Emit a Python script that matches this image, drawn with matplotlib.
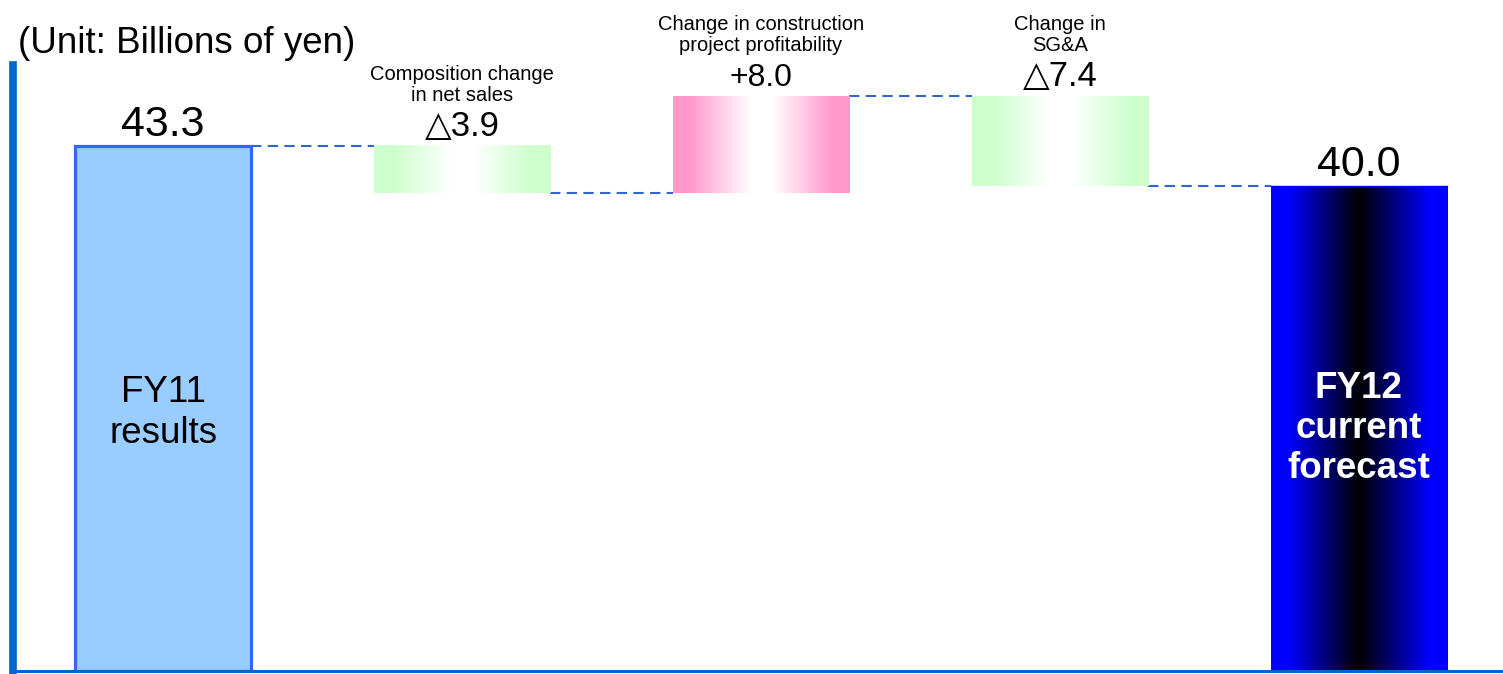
import numpy as np
import matplotlib
matplotlib.use("Agg")
import matplotlib.pyplot as plt
from matplotlib.colors import LinearSegmentedColormap

plt.rcParams['font.family'] = ['Liberation Sans', 'DejaVu Sans']

# data
labels = ['FY11\nresults', 'Composition change\nin net sales', 'Change in construction\nproject profitability',
          'Change in\nSG&A', 'FY12\ncurrent\nforecast']
start_value = 43.3
changes = [-3.9, 8.0, -7.4]
end_value = 40.0
value_texts = ['43.3', '\u25b33.9', '+8.0', '\u25b37.4', '40.0']

# waterfall bottoms / heights
bottoms = [0]
heights = [start_value]
running = start_value
for c in changes:
    new = running + c
    bottoms.append(min(running, new))
    heights.append(abs(c))
    running = new
bottoms.append(0)
heights.append(end_value)
tops = [b + h for b, h in zip(bottoms, heights)]
levels = [start_value] + list(np.cumsum([start_value] + changes)[1:]) + [end_value]

fig = plt.figure(figsize=(15.03, 6.74), dpi=100)
ax = fig.add_axes([0.00865, 0.0045, 0.99135, 0.8991])
x = np.arange(len(labels))
width = 0.59

bars = ax.bar(x, heights, width, bottom=bottoms, color='none', edgecolor='none')

def grad_cmap(edge, mid, flat=0.1, band=0.06):
    return LinearSegmentedColormap.from_list('g', [(0, edge), (flat, edge), (0.5 - band, mid),
                                                   (0.5 + band, mid), (1 - flat, edge), (1, edge)])

styles = [None,
          grad_cmap('#CCFFCC', '#FFFFFF'),
          grad_cmap('#FF99CC', '#FFFFFF'),
          grad_cmap('#CCFFCC', '#FFFFFF'),
          grad_cmap('#0000FF', '#000000', flat=0.1, band=0.0)]

grad = np.linspace(0, 1, 256).reshape(1, -1)
for i, (b, cm) in enumerate(zip(bars, styles)):
    if cm is None:
        b.set_facecolor('#99CCFF')
        b.set_edgecolor('#3366FF')
        b.set_linewidth(2.3)
        continue
    x0, y0 = b.get_x(), b.get_y()
    ax.imshow(grad, cmap=cm, aspect='auto', interpolation='bilinear',
              extent=(x0, x0 + b.get_width(), y0, y0 + b.get_height()), zorder=2)
# thin top edge on final bar
fb = bars[-1]
ax.plot([fb.get_x(), fb.get_x() + fb.get_width()], [tops[-1], tops[-1]], color='#0000FF', lw=1, zorder=3)

# connectors
for i in range(len(labels) - 1):
    lvl = levels[i]
    ax.plot([x[i] + width / 2, x[i + 1] - width / 2], [lvl, lvl], color='#3366CC',
            lw=1.5, ls=(0, (5, 3)), zorder=1)

# value labels
for i in range(len(labels)):
    fs = 31 if i in (0, 4) else (23 if i == 2 else 25)
    ax.annotate(value_texts[i], xy=(x[i], tops[i]), xytext=(0, 10), textcoords='offset pixels',
                ha='center', va='baseline', fontsize=fs, color='black')

# description labels above change bars
for i in (1, 2, 3):
    ax.annotate(labels[i], xy=(x[i], tops[i]), xytext=(0, 41), textcoords='offset pixels',
                ha='center', va='bottom', fontsize=14.5, color='black', linespacing=1.15)

# labels inside total bars
ax.text(x[0], 21.3, labels[0], ha='center', va='center', fontsize=26.5, color='black', linespacing=1.2)
ax.text(x[4], 20.0, labels[4], ha='center', va='center', fontsize=26.5, color='white',
        fontweight='bold', linespacing=1.2)

fig.text(0.012, 0.935, '(Unit: Billions of yen)', fontsize=26.5, ha='left', va='center')

ax.set_xlim(-0.502, 4.482)
ax.set_ylim(0, 50)
ax.set_xticks([])
ax.set_yticks([])
for s in ('top', 'right'):
    ax.spines[s].set_visible(False)
ax.spines['left'].set_color('#0066CC')
ax.spines['left'].set_linewidth(5.5)
ax.spines['bottom'].set_color('#0066CC')
ax.spines['bottom'].set_linewidth(2.2)

fig.savefig('out.png', dpi=100)
